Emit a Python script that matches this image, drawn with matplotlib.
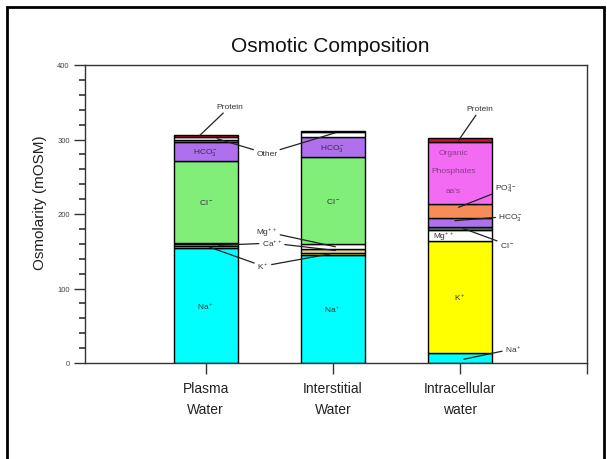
import matplotlib
matplotlib.use('Agg')
import matplotlib.pyplot as plt
from matplotlib.patches import Rectangle
from matplotlib.ticker import MultipleLocator

plt.rcParams['font.family'] = ['Liberation Sans', 'DejaVu Sans']
plt.rcParams['mathtext.default'] = 'regular'

# data (mOSM), bottom to top in each bar
categories = ['Plasma\nWater', 'Interstitial\nWater', 'Intracellular\nwater']
ions = ['Na+', 'K+', 'Ca++', 'Mg++', 'Cl-', 'HCO3-', 'PO4 3-', 'Organic phosphates', 'Other', 'Protein']
plasma = [154, 3, 2.5, 1.5, 110.5, 24.5, 3.5, 0, 4.5, 2]
interstitial = [145, 3, 5, 6.5, 116.5, 27.5, 0, 0, 7, 1]
intracellular = [14, 150, 0, 14, 4, 12, 19, 83, 0, 6]

ion_colors = ['#00FFFF', '#FFFF00', '#E3CF8E', '#FFFFFF', '#80EE78',
              '#B070EE', '#F88C58', '#F36BF3', '#FFFFFF', '#D0102A']
cl_intracellular = '#4F8A5F'

fig = plt.figure(figsize=(6.07, 4.6), dpi=100)
ax = fig.add_axes([85/607, 1-364/460, (587-85)/607, (364-66)/460])

x = [1, 2, 3]
columns = [plasma, interstitial, intracellular]
for xi, col in zip(x, columns):
    bottom = 0
    for k, val in enumerate(col):
        if val <= 0:
            continue
        c = ion_colors[k]
        if xi == 3 and ions[k] == 'Cl-':
            c = cl_intracellular
        ax.bar(xi, val, bottom=bottom, width=0.5, color=c,
               edgecolor='black', linewidth=1.0, zorder=2)
        bottom += val

# text labels inside the segments
def mid(col, k):
    return sum(col[:k]) + col[k] / 2

fs = 6
for xi, col in zip([1, 2], [plasma, interstitial]):
    ax.text(xi, mid(col, 0), 'Na$^+$', ha='center', va='center', fontsize=fs, color='#333333')
    ax.text(xi, mid(col, 4), 'Cl$^-$', ha='center', va='center', fontsize=fs, color='#333333')
    ax.text(xi, mid(col, 5), 'HCO$_3^-$', ha='center', va='center', fontsize=fs, color='#333333')
ax.text(3, mid(intracellular, 1), 'K$^+$', ha='center', va='center', fontsize=fs, color='#333333')
ax.text(2.87, mid(intracellular, 3) - 1, 'Mg$^{++}$', ha='center', va='center', fontsize=fs, color='#333333')
ax.text(2.95, 283, 'Organic', ha='center', va='center', fontsize=fs, color='#8B3A8B')
ax.text(2.95, 258, 'Phosphates', ha='center', va='center', fontsize=fs, color='#8B3A8B')
ax.text(2.95, 231, "aa's", ha='center', va='center', fontsize=fs, color='#8B3A8B')

# leader-line labels
line_kw = dict(arrowstyle='-', color='#222222', lw=0.9, shrinkA=0, shrinkB=0)

def callout(label, txt_xy, targets):
    for i, t in enumerate(targets):
        ax.annotate(label, xy=t, xytext=txt_xy, ha='center', va='center',
                    fontsize=fs, color='#333333' if i == 0 else 'none',
                    arrowprops=line_kw, zorder=4)

callout('Protein', (1.19, 344), [(0.95, 305)])
callout('Other', (1.48, 281), [(1.09, 301), (2.02, 309)])
callout('Mg$^{++}$', (1.48, 176), [(2.02, 156)])
callout('Ca$^{++}$', (1.52, 161), [(1.1, 158), (2.02, 151)])
callout('K$^+$', (1.45, 130), [(1.03, 155.5), (1.98, 146.5)])

callout('Protein', (3.16, 341), [(2.99, 299)])
callout('PO$_4^{3-}$', (3.36, 234), [(2.99, 209)])
callout('HCO$_3^-$', (3.40, 197), [(2.96, 191)])
callout('Cl$^-$', (3.37, 159), [(3.02, 181)])
callout('Na$^+$', (3.42, 19), [(3.03, 5)])

# axes styling
ax.set_xlim(0.05, 4)
ax.set_ylim(0, 400)
ax.set_xticks([1, 2, 3, 4], labels=categories + [''])
ax.yaxis.set_major_locator(MultipleLocator(100))
ax.yaxis.set_minor_locator(MultipleLocator(20))
ax.tick_params(axis='x', length=8, width=1.0, color='#333333', labelsize=10,
               pad=5, labelcolor='#222222')
ax.tick_params(axis='y', which='major', length=8, width=1.0, color='#333333',
               labelsize=5.5, pad=3, labelcolor='#444444')
ax.tick_params(axis='y', which='minor', length=4, width=1.2, color='#333333')
for lbl in ax.get_xticklabels():
    lbl.set_linespacing(1.6)
for s in ax.spines.values():
    s.set_color('#333333')
    s.set_linewidth(1.0)

fig.text(0.544, 1-47/460, 'Osmotic Composition', ha='center', va='center',
         fontsize=15, color='#111111')
fig.text(40/607, 1-203/460, 'Osmolarity (mOSM)', rotation=90, ha='center',
         va='center', fontsize=11, color='#222222')

fig.patches.append(Rectangle((7/607, -0.1), (604-7)/607, 1.1-8/460, fill=False,
                             edgecolor='black', linewidth=2,
                             transform=fig.transFigure, figure=fig))

fig.savefig('out.png', dpi=100)
